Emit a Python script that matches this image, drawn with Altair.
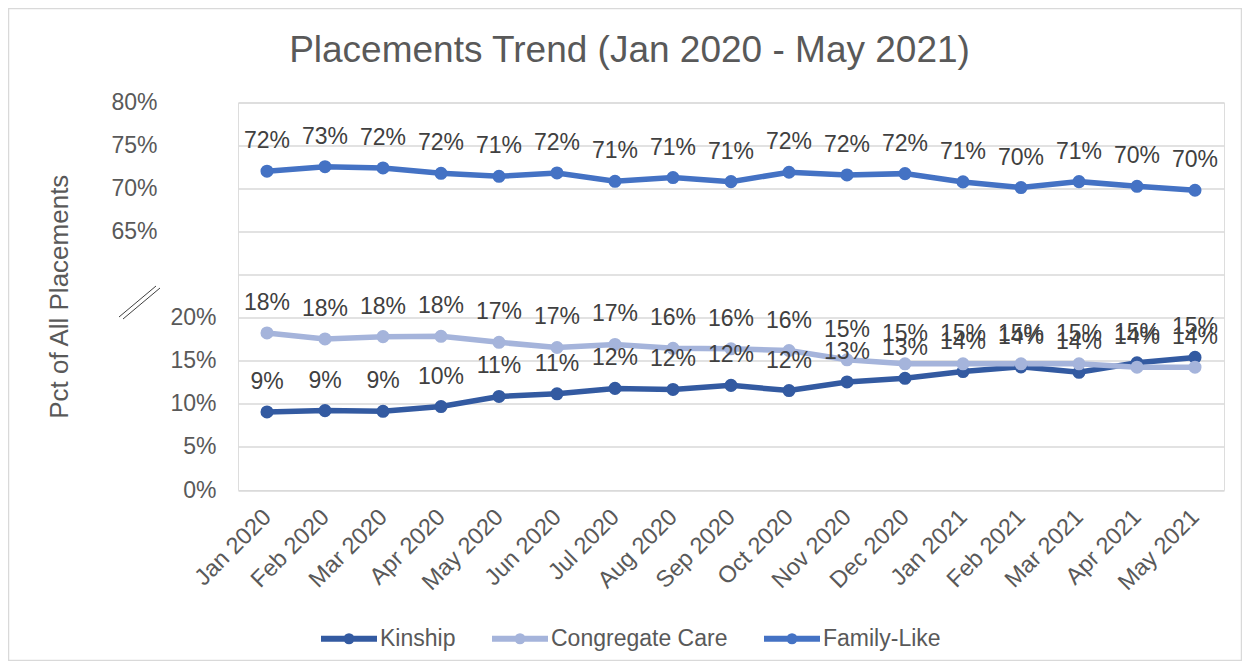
import altair as alt
import pandas as pd

months = ["Jan 2020", "Feb 2020", "Mar 2020", "Apr 2020", "May 2020", "Jun 2020",
          "Jul 2020", "Aug 2020", "Sep 2020", "Oct 2020", "Nov 2020", "Dec 2020",
          "Jan 2021", "Feb 2021", "Mar 2021", "Apr 2021", "May 2021"]
series_names = ["Kinship", "Congregate Care", "Family-Like"]
kinship = [9.06, 9.22, 9.14, 9.69, 10.86, 11.17, 11.8, 11.68, 12.15, 11.55,
           12.55, 12.97, 13.75, 14.3, 13.67, 14.77, 15.4]
congregate = [18.24, 17.54, 17.81, 17.85, 17.15, 16.55, 16.9, 16.45, 16.4, 16.2,
              15.12, 14.65, 14.65, 14.65, 14.65, 14.26, 14.26]
family_like = [72.02, 72.55, 72.4, 71.78, 71.43, 71.82, 70.85, 71.28, 70.81, 71.9,
               71.59, 71.74, 70.78, 70.12, 70.81, 70.27, 69.81]
colors = ["#335AA1", "#A5B4DB", "#4472C4"]
y_ticks = [0, 5, 10, 15, 20, 25, 30, 35, 40, 45]
title_text = "Placements Trend (Jan 2020 - May 2021)"

rows = []
for name, vals in zip(series_names, [kinship, congregate, family_like]):
    for m, v in zip(months, vals):
        rows.append({"month": m, "series": name, "value": v,
                     "order": series_names.index(name)})
df = pd.DataFrame(rows)

FONT = "Liberation Sans, Arial"
GREY = "#595959"

x_enc = alt.X("month:O", sort=months, scale=alt.Scale(type="point", padding=0.5),
              axis=alt.Axis(title=None, labelAngle=-45, labelAlign="right",
                            labelBaseline="middle", labelPadding=23, labelFontSize=23.5,
                            labelColor=GREY, labelFont=FONT, domain=False, ticks=False,
                            grid=False))
y_enc = alt.Y("yp:Q", scale=alt.Scale(domain=[0, 45], nice=False, zero=True),
              axis=alt.Axis(values=y_ticks,
                            labelExpr="datum.value == 25 ? '' : (datum.value >= 30 ? datum.value + 35 : datum.value) + '%'",
                            labelPadding={"condition": {"test": "datum.value >= 30", "value": 81}, "value": 22},
                            labelFontSize=23, labelColor=GREY, labelFont=FONT,
                            grid=True, gridColor="#D9D9D9", gridWidth=1.5,
                            domain=False, ticks=False, tickSize=0,
                            title="Pct of All Placements", titleFontSize=26,
                            titleFont=FONT, titleColor=GREY, titleFontWeight="normal",
                            titleX=-166, titleY=193.75))
color_scale = alt.Scale(domain=series_names, range=colors)

base = alt.Chart(df).transform_calculate(
    yp="datum.value >= 50 ? datum.value - 35 : datum.value",
    label="format(datum.value, '.0f') + '%'"
)

legend_symbol = ("M-1,0L1,0 M0.09,0A0.09,0.09 0 1,1 -0.09,0A0.09,0.09 0 1,1 0.09,0Z")

lines = base.mark_line(strokeWidth=5.5).encode(
    x=x_enc, y=y_enc,
    color=alt.Color("series:N", scale=color_scale,
                    legend=alt.Legend(orient="none", legendX=80, legendY=505,
                                      direction="horizontal", title=None,
                                      symbolType=legend_symbol, symbolSize=3136,
                                      symbolStrokeWidth=6, labelLimit=0,
                                      labelFontSize=23, labelColor=GREY, labelFont=FONT,
                                      labelOffset=0, columnPadding=24)),
    order=alt.Order("order:Q"),
)

points = base.mark_circle(size=170, opacity=1).encode(
    x=x_enc, y=y_enc,
    color=alt.Color("series:N", scale=color_scale, legend=None),
)

labels = base.mark_text(fontSize=23, font=FONT, color="#404040", dy=-23,
                        baseline="alphabetic", align="center").encode(
    x=x_enc, y=y_enc, text="label:N",
)

one = alt.Data(values=[{"t": title_text}])
title = alt.Chart(one).mark_text(fontSize=37, font=FONT, color=GREY,
                                 baseline="alphabetic", align="center").encode(
    x=alt.value(391.5), y=alt.value(-40.8), text="t:N")
border = alt.Chart(one).mark_rect(fill=None, stroke="#D9D9D9", strokeWidth=1.5).encode(
    x=alt.value(-229.5), x2=alt.value(1003.5), y=alt.value(-94), y2=alt.value(558))
brk1 = alt.Chart(one).mark_rule(color="#404040", strokeWidth=1).encode(
    x=alt.value(-119), y=alt.value(214.5), x2=alt.value(-82), y2=alt.value(183.5))
brk2 = alt.Chart(one).mark_rule(color="#404040", strokeWidth=1).encode(
    x=alt.value(-115), y=alt.value(216.5), x2=alt.value(-78), y2=alt.value(185.5))

chart = alt.layer(border, brk1, brk2, title, lines, points, labels).properties(
    width=986, height=387.5,
    padding={"left": 230, "top": 94.5, "right": 18, "bottom": 171},
    autosize=alt.AutoSizeParams(type="none"),
).configure_view(stroke=None).configure(background="white")

chart.save("out.html", embed_options={"renderer": "svg", "actions": False})
